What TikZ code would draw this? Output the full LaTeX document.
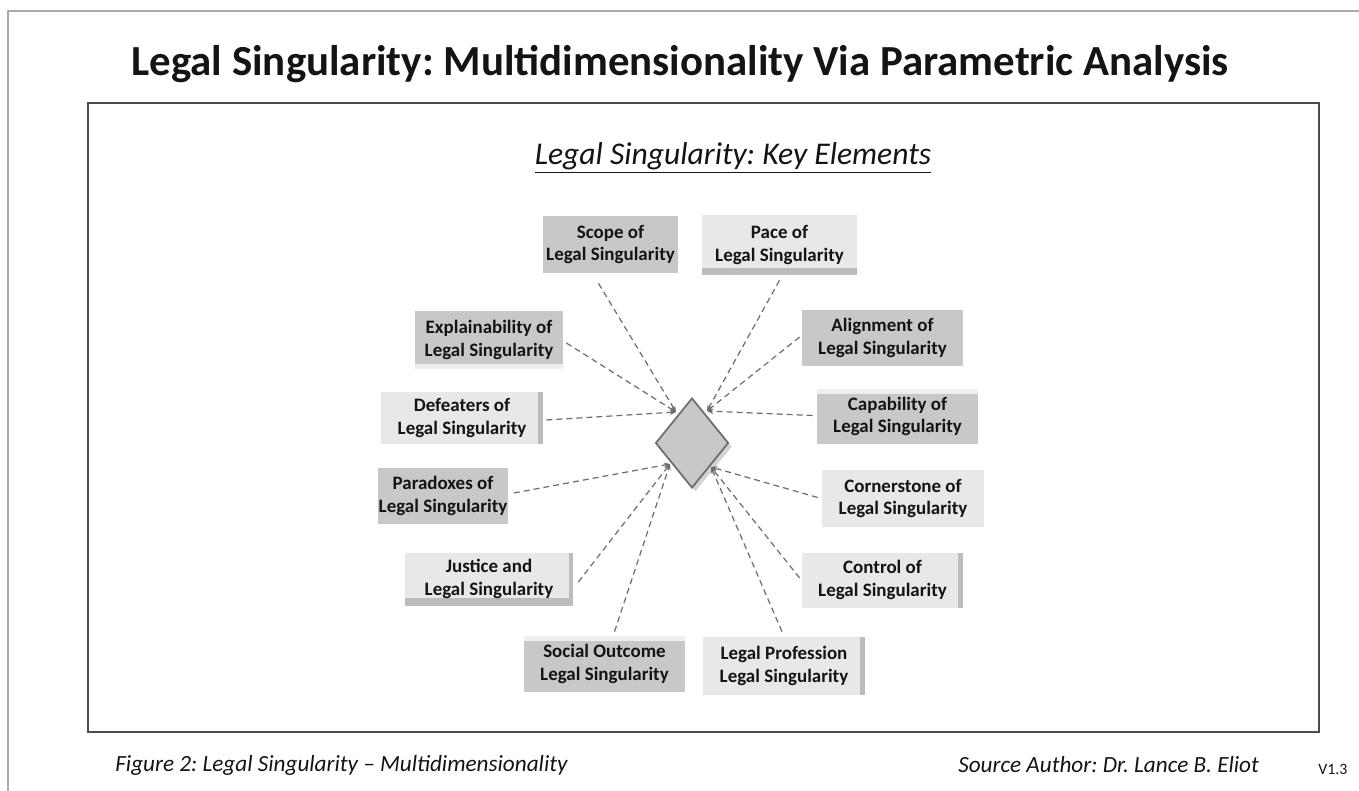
\documentclass[tikz,border=0pt]{standalone}
\usepackage{fontspec}
\setmainfont{Carlito}
\frenchspacing
\usetikzlibrary{shapes.geometric,shadows,calc,arrows.meta,positioning}

\definecolor{boxdark}{RGB}{200,200,200}
\definecolor{boxlight}{RGB}{232,232,232}
\definecolor{bardark}{RGB}{188,188,188}
\definecolor{barlight}{RGB}{238,238,238}
\definecolor{linkcol}{RGB}{110,110,110}
\definecolor{framecol}{RGB}{170,170,170}
\definecolor{textcol}{RGB}{20,20,20}

\tikzset{
  element/.style={rectangle, align=center, inner sep=0pt, minimum width=3.22cm, minimum height=1.12cm,
    font=\bfseries\fontsize{10.8}{12.8}\selectfont, text=textcol},
  darkelement/.style={element, fill=boxdark},
  lightelement/.style={element, fill=boxlight},
  barright/.style={path picture={\fill[bardark] ([xshift=-3pt]path picture bounding box.north east) rectangle (path picture bounding box.south east);}},
  barbelow/.style={path picture={\fill[bardark] ([yshift=4pt]path picture bounding box.south west) rectangle (path picture bounding box.south east);}},
  barboth/.style={path picture={\fill[bardark] ([yshift=4pt]path picture bounding box.south west) rectangle (path picture bounding box.south east);
    \fill[bardark] ([xshift=-2pt]path picture bounding box.north east) rectangle (path picture bounding box.south east);}},
  lightbelow/.style={path picture={\fill[barlight] ([yshift=3pt]path picture bounding box.south west) rectangle (path picture bounding box.south east);}},
  lightabove/.style={path picture={\fill[barlight] ([yshift=-3pt]path picture bounding box.north west) rectangle (path picture bounding box.north east);}},
  hub/.style={diamond, inner sep=0pt, minimum width=1.46cm, minimum height=1.8cm, fill=boxdark,
    draw=linkcol, line width=1pt, drop shadow={shadow xshift=2pt, shadow yshift=-2pt, opacity=0.35}},
  link/.style={draw=linkcol, dash pattern=on 3.4pt off 2.3pt, line width=0.7pt, -{Stealth[length=3.5pt,width=3pt]}},
  caption/.style={font=\itshape\fontsize{13.2}{15}\selectfont, text=textcol, inner sep=0pt}
}

\begin{document}
\begin{tikzpicture}[x=0.02cm,y=-0.02cm]
    \useasboundingbox (0,0) rectangle (1359,791);
    % frames
    \draw[framecol, line width=1.2pt] (8,791) -- (8,11) -- (1359,11);
    \draw[black!70, line width=0.8pt] (88,103) rectangle (1319,732);

    % titles
    \node[font=\bfseries\fontsize{24.4}{28}\selectfont, text=textcol] (title) at (680,64) {Legal Singularity: Multidimensionality Via Parametric Analysis};
    \node[font=\itshape\fontsize{18}{21}\selectfont, text=textcol] (subtitle) at (733,158) {\underline{Legal Singularity: Key Elements}};

    % hub
    \node[hub] (dia) at (692,443) {};
    \coordinate (ul) at (676,412);
    \coordinate (ur) at (707,411);
    \coordinate (ll) at (670,464);
    \coordinate (lr) at (711,467);

    % elements
    \node[darkelement, minimum width=2.7cm, minimum height=1.14cm] (scope) at (610.5,244.5) {Scope of\\Legal Singularity};
    \node[lightelement, barbelow, minimum width=3.1cm, minimum height=1.2cm] (pace) at (779.5,245) {Pace of\\Legal Singularity};
    \node[darkelement, lightbelow, minimum width=2.96cm, minimum height=1.16cm] (explain) at (489,340) {Explainability of\\Legal Singularity};
    \node[lightelement, barright, minimum width=3.24cm, minimum height=1.04cm] (defeat) at (462,418) {Defeaters of\\Legal Singularity};
    \node[darkelement, minimum width=2.62cm, minimum height=1.12cm] (paradox) at (443,496) {Paradoxes of\\Legal Singularity};
    \node[lightelement, barboth, minimum width=3.36cm, minimum height=1.06cm] (justice) at (489,579) {Justice and\\Legal Singularity};
    \node[darkelement, lightabove, minimum width=3.22cm, minimum height=1.12cm] (social) at (604.5,664) {Social Outcome\\Legal Singularity};
    \node[lightelement, barright, minimum width=3.24cm, minimum height=1.16cm] (profession) at (784,666) {Legal Profession\\Legal Singularity};
    \node[lightelement, barright, minimum width=3.22cm, minimum height=1.1cm] (control) at (882.5,580) {Control of\\Legal Singularity};
    \node[lightelement, minimum width=3.24cm, minimum height=1.14cm] (corner) at (903,498.5) {Cornerstone of\\Legal Singularity};
    \node[darkelement, lightabove, minimum width=3.22cm, minimum height=1.1cm] (capab) at (897.5,416.5) {Capability of\\Legal Singularity};
    \node[darkelement, minimum width=3.22cm, minimum height=1.12cm] (align) at (882.5,338) {Alignment of\\Legal Singularity};

    % links to the hub
    \draw[link] ($(scope.south)+(-12,10)$) -- (ul);
    \draw[link] ($(explain.east)+(3,3)$) -- (ul);
    \draw[link] ($(defeat.east)+(3,2)$) -- (ul);
    \draw[link] ($(pace.south)+(0,5)$) -- (ur);
    \draw[link] ($(align.west)+(-2,-1)$) -- (ur);
    \draw[link] ($(capab.west)+(-4,-1)$) -- (ur);
    \draw[link] ($(paradox.east)+(5,-3)$) -- (ll);
    \draw[link] ($(justice.east)+(5,3)$) -- (ll);
    \draw[link] ($(social.north)+(10,-4)$) -- (ll);
    \draw[link] ($(corner.west)+(-4,-1)$) -- (lr);
    \draw[link] ($(control.west)+(-2,-2)$) -- (lr);
    \draw[link] ($(profession.north)+(-2,-5)$) -- (lr);

    % footer
    \node[caption, anchor=west] (figcap) at (115,765) {Figure 2: Legal Singularity – Multidimensionality};
    \node[caption, anchor=west] (source) at (958,765) {Source Author: Dr. Lance B. Eliot};
    \node[font=\fontsize{9}{11}\selectfont, text=textcol, anchor=west, inner sep=0pt] (version) at (1318,769) {V1.3};
\end{tikzpicture}
\end{document}
